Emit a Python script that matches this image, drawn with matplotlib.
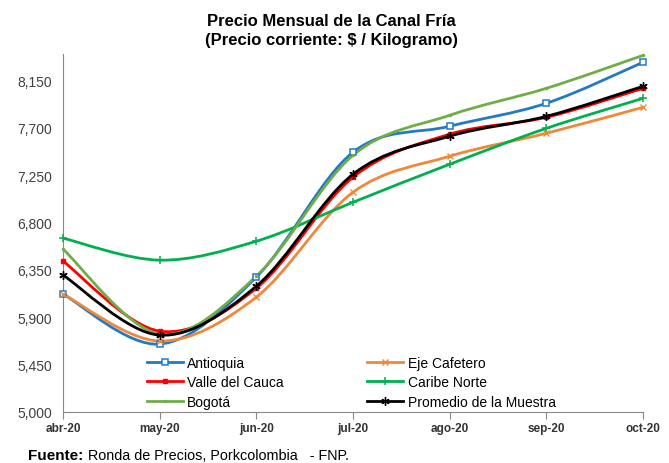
import matplotlib.pyplot as plt
from matplotlib.path import Path
from matplotlib.patches import PathPatch
from matplotlib.lines import Line2D

plt.rcParams['font.family'] = ['Liberation Sans', 'DejaVu Sans']

meses = ['abr-20', 'may-20', 'jun-20', 'jul-20', 'ago-20', 'sep-20', 'oct-20']
antioquia = [6120, 5645, 6281, 7467, 7714, 7932, 8321]
eje_cafetero = [6120, 5674, 6091, 7087, 7429, 7647, 7894]
valle = [6433, 5768, 6176, 7230, 7638, 7799, 8074]
caribe = [6651, 6442, 6622, 6992, 7353, 7694, 7979]
bogota = [6547, 5740, 6290, 7438, 7818, 8074, 8387]
promedio = [6300, 5730, 6195, 7258, 7619, 7808, 8093]
y_ticks = [5000, 5450, 5900, 6350, 6800, 7250, 7700, 8150]

series = [
    ('Antioquia', antioquia, '#2379C4', dict(marker='s', ms=4.5, mfc='white', mew=1.1)),
    ('Eje Cafetero', eje_cafetero, '#F0883A', dict(marker='x', ms=5, mew=1.0)),
    ('Valle del Cauca', valle, '#FF0000', dict(marker='s', ms=3)),
    ('Caribe Norte', caribe, '#00B050', dict(marker='+', ms=6, mew=1.1)),
    ('Bogotá', bogota, '#70AD47', dict(marker='.', ms=3)),
    ('Promedio de la Muestra', promedio, '#000000', dict(marker=(6, 2, 0), ms=6, mew=1.0)),
]


def curva_suave(xs, ys):
    # bezier tipo Excel entre puntos consecutivos
    n = len(xs)
    verts = [(xs[0], ys[0])]
    codes = [Path.MOVETO]
    for i in range(n - 1):
        x0, y0 = xs[max(i - 1, 0)], ys[max(i - 1, 0)]
        x1, y1 = xs[i], ys[i]
        x2, y2 = xs[i + 1], ys[i + 1]
        x3, y3 = xs[min(i + 2, n - 1)], ys[min(i + 2, n - 1)]
        c1 = (x1 + (x2 - x0) / 6, y1 + (y2 - y0) / 6)
        c2 = (x2 - (x3 - x1) / 6, y2 - (y3 - y1) / 6)
        verts += [c1, c2, (x2, y2)]
        codes += [Path.CURVE4] * 3
    return Path(verts, codes)


fig = plt.figure(figsize=(6.69, 4.64), dpi=100)
ax = fig.add_axes([63 / 669, 1 - 413 / 464, 580 / 669, 358 / 464])

x = list(range(len(meses)))
handles = []
for nombre, valores, color, estilo in series:
    ax.add_patch(PathPatch(curva_suave(x, valores), fill=False, edgecolor=color, lw=2.0, zorder=2))
    ax.plot(x, valores, ls='none', color=color, mec=color, zorder=3, clip_on=False, **estilo)
    handles.append(Line2D([], [], color=color, lw=2.0, mec=color, **estilo))

ax.set_xlim(0, 6)
ax.set_ylim(5000, 8400)
ax.set_xticks(x)
ax.set_xticklabels(meses, fontsize=8.5, fontweight='bold', color='#333333')
ax.set_yticks(y_ticks)
ax.set_yticklabels([f'{v:,}' for v in y_ticks], fontsize=10, color='#404040')
ax.tick_params(axis='y', length=0, pad=8)
ax.tick_params(axis='x', length=5, color='#888888', direction='out', pad=2)
for lado in ['top', 'right']:
    ax.spines[lado].set_visible(False)
for lado in ['left', 'bottom']:
    ax.spines[lado].set_color('#888888')

orden = [0, 2, 4, 1, 3, 5]
ax.legend([handles[i] for i in orden], [series[i][0] for i in orden], ncol=2,
          loc='upper left', bbox_to_anchor=(147 / 669, 1 - 357 / 464),
          bbox_transform=fig.transFigure, frameon=False, fontsize=10,
          handlelength=2.6, handletextpad=0.3, columnspacing=6.0,
          labelspacing=0.38, borderpad=0, borderaxespad=0)

fig.text(0.495, 1 - 31 / 464, 'Precio Mensual de la Canal Fría\n(Precio corriente: $ / Kilogramo)',
         ha='center', va='center', fontsize=12, fontweight='bold', linespacing=1.4)
fig.text(28 / 669, 1 - 456 / 464, 'Fuente:', fontsize=11, fontweight='bold', va='center')
fig.text(88 / 669, 1 - 456 / 464, 'Ronda de Precios, Porkcolombia   - FNP.', fontsize=10.4, va='center')

fig.savefig('out.png', dpi=100)
